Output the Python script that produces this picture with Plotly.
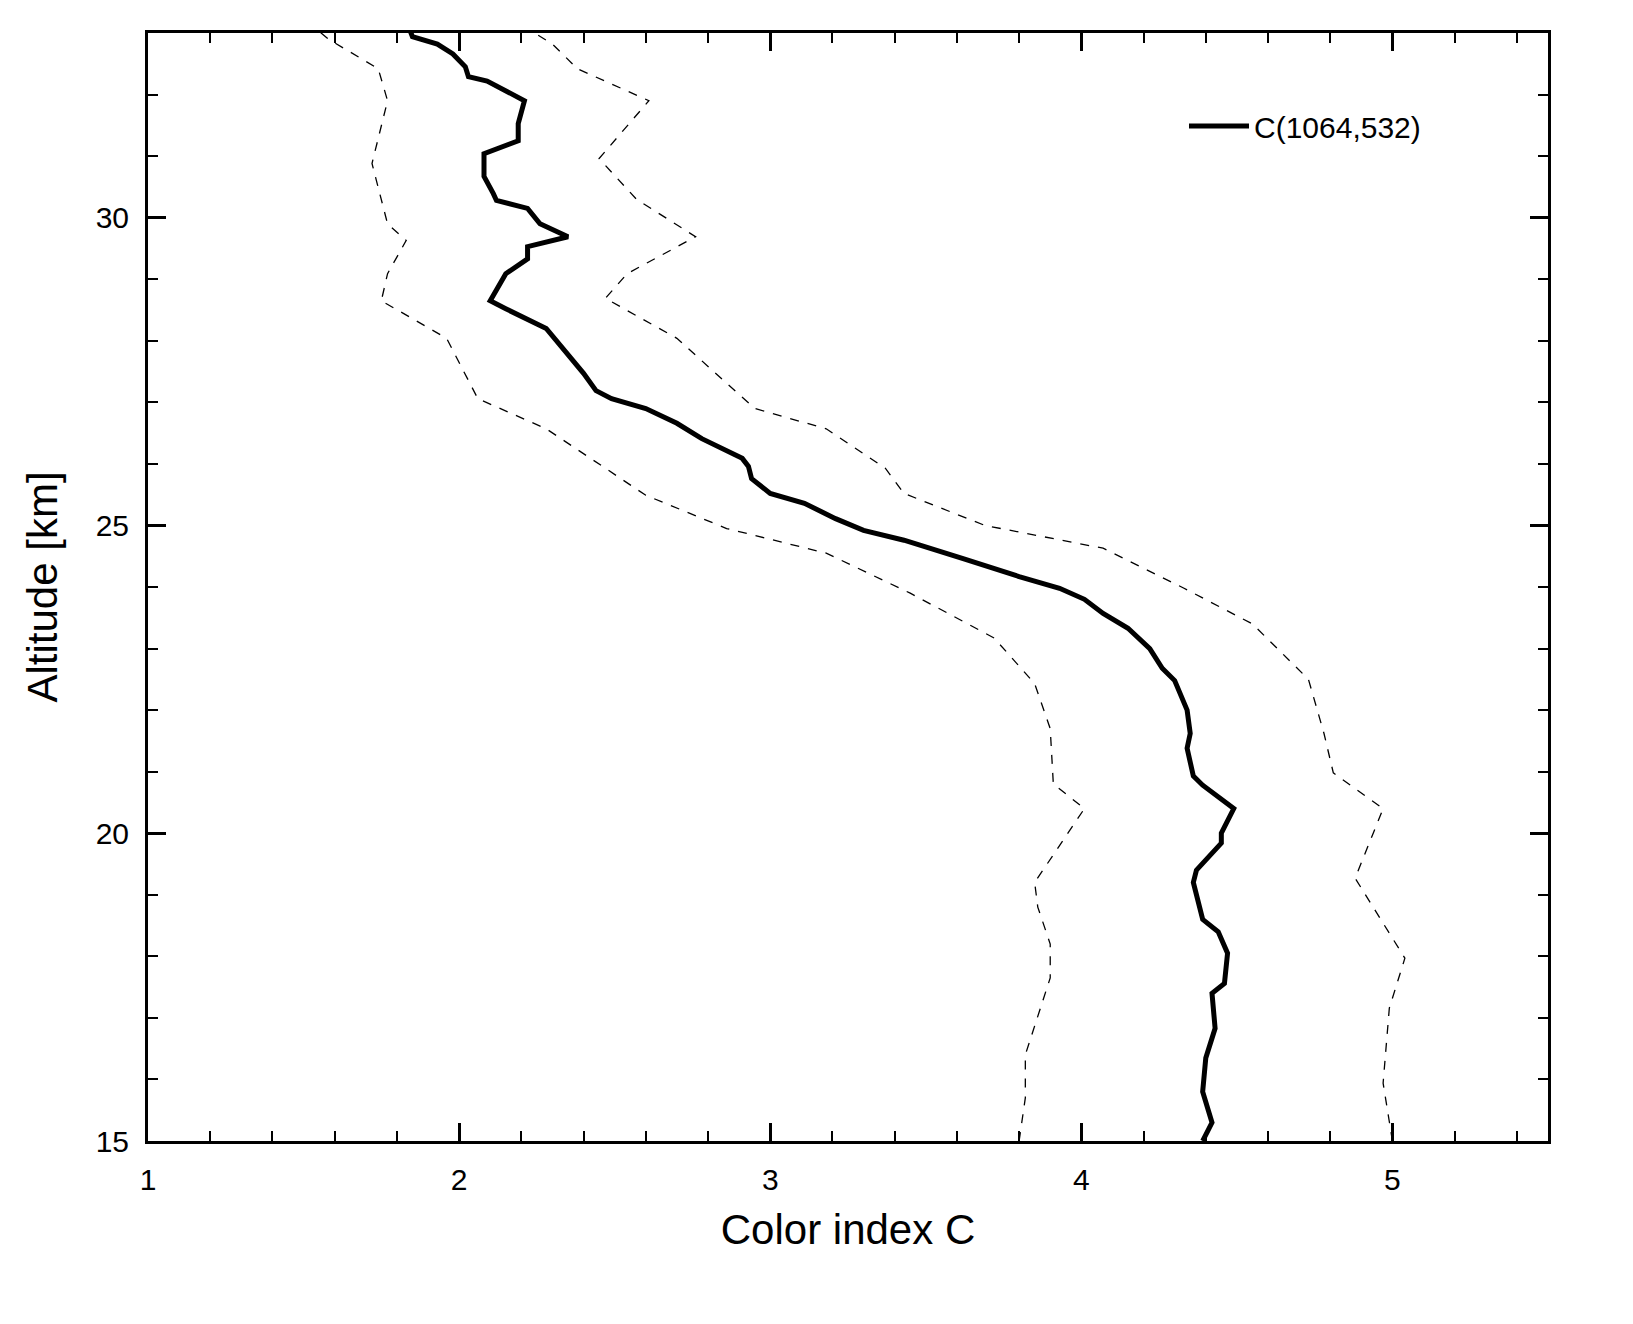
import plotly.graph_objects as go

alt_main = [15,15.3,15.8,16.35,16.83,17.4,17.56,18.05,18.4,18.6,19.2,19.4,19.84,20,20.4,20.78,20.93,21.38,21.62,22.0,22.48,22.68,23.0,23.33,23.57,23.8,23.98,24.17,24.46,24.76,24.92,25.11,25.36,25.52,25.76,25.96,26.09,26.41,26.66,26.9,27.06,27.19,27.47,28.2,28.52,28.65,29.09,29.33,29.53,29.69,29.9,30.15,30.28,30.39,30.67,31.04,31.25,31.53,31.9,32.22,32.29,32.45,32.66,32.82,32.94,33.07]
c_main = [4.39,4.42,4.39,4.40,4.43,4.42,4.46,4.47,4.44,4.39,4.36,4.37,4.45,4.45,4.49,4.39,4.36,4.34,4.35,4.34,4.30,4.26,4.22,4.15,4.07,4.01,3.93,3.80,3.62,3.43,3.30,3.21,3.11,3.0,2.94,2.93,2.91,2.78,2.70,2.60,2.49,2.44,2.40,2.28,2.15,2.10,2.15,2.22,2.22,2.35,2.26,2.22,2.12,2.11,2.08,2.08,2.19,2.19,2.21,2.09,2.03,2.02,1.98,1.93,1.85,1.84]

alt_lo = [15,15.7,16.4,17.65,18.2,18.8,19.2,20.4,20.8,21.7,22.43,23.17,23.9,24.55,24.95,25.49,25.93,26.57,27.06,28.04,28.65,29.09,29.63,29.9,30.88,31.9,32.42,32.9,33.07]
c_lo = [3.80,3.82,3.82,3.90,3.90,3.86,3.85,4.01,3.91,3.90,3.85,3.72,3.45,3.18,2.86,2.60,2.47,2.28,2.06,1.96,1.75,1.77,1.83,1.77,1.72,1.77,1.74,1.58,1.54]

alt_hi = [15,15.94,17.16,17.97,19.27,20.4,20.98,21.62,22.5,23.4,23.98,24.63,25,25.52,25.93,26.57,26.9,28.04,28.69,29.09,29.69,30.3,30.96,31.9,32.42,32.82,33.07]
c_hi = [5.0,4.97,4.99,5.04,4.88,4.97,4.81,4.78,4.73,4.55,4.33,4.07,3.69,3.43,3.37,3.18,2.95,2.70,2.47,2.54,2.76,2.57,2.45,2.61,2.38,2.30,2.22]

fig = go.Figure()
fig.add_trace(go.Scatter(x=c_lo, y=alt_lo, mode="lines", line=dict(color="black", width=1.3, dash="dash"), showlegend=False))
fig.add_trace(go.Scatter(x=c_hi, y=alt_hi, mode="lines", line=dict(color="black", width=1.3, dash="dash"), showlegend=False))
fig.add_trace(go.Scatter(x=c_main, y=alt_main, mode="lines", name="C(1064,532)", line=dict(color="black", width=5)))

axcommon = dict(showline=True, linecolor="black", linewidth=3, mirror="ticks", ticks="inside",
                ticklen=18, tickwidth=2.5, tickcolor="black", showgrid=False, zeroline=False,
                tickfont=dict(size=30, color="black"))
fig.update_xaxes(range=[1, 5.5], tickvals=[1,2,3,4,5], title=dict(text="Color index C", font=dict(size=42, color="black"), standoff=20),
                 minor=dict(dtick=0.2, tick0=1, ticks="inside", ticklen=10, tickwidth=2, tickcolor="black"), **axcommon)
fig.update_yaxes(range=[15, 33], tickvals=[15,20,25,30], ticklabelstandoff=10,
                 title=dict(text="Altitude [km]", font=dict(size=42, color="black"), standoff=25),
                 minor=dict(dtick=1, tick0=15, ticks="inside", ticklen=10, tickwidth=2, tickcolor="black"), **axcommon)
fig.update_xaxes(ticklabelstandoff=10)
fig.update_layout(width=1633, height=1324, plot_bgcolor="white", paper_bgcolor="white",
                  margin=dict(l=140, r=93, t=25, b=191),
                  font=dict(family="Liberation Sans, Arial, sans-serif", color="black"),
                  legend=dict(x=0.74, y=0.916, yanchor="middle", xanchor="left", bgcolor="rgba(0,0,0,0)",
                              itemwidth=60, font=dict(size=30, color="black")))
fig.write_html("out.html")
